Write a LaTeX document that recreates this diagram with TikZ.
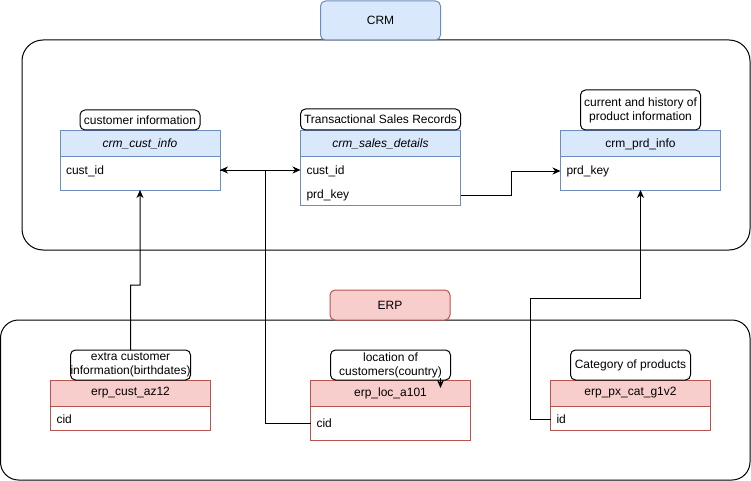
\documentclass[tikz,border=0pt]{standalone}
\usepackage{fontspec}
\setmainfont{Liberation Sans}
\usetikzlibrary{arrows.meta,calc}
\definecolor{blueS}{HTML}{6C8EBF}
\definecolor{blueF}{HTML}{DAE8FC}
\definecolor{redS}{HTML}{B85450}
\definecolor{redF}{HTML}{F8CECC}
\begin{document}
\begin{tikzpicture}[x=1pt,y=-1pt,font=\fontsize{12}{14}\selectfont,line width=1pt,
  every node/.style={inner sep=0pt,outer sep=0pt},
  container/.style={draw=black,rounded corners=21pt,anchor=north west},
  grplabel/.style={rounded corners=5pt,anchor=north west,minimum width=120pt},
  bluelabel/.style={grplabel,draw=blueS,fill=blueF},
  redlabel/.style={grplabel,draw=redS,fill=redF},
  caption/.style={draw=black,fill=white,rounded corners=5pt,anchor=north west,align=center},
  bhead/.style={draw=blueS,fill=blueF,anchor=north west,minimum width=160pt,minimum height=26pt},
  bbody/.style={draw=blueS,fill=white,anchor=north west,minimum width=160pt},
  rhead/.style={draw=redS,fill=redF,anchor=north west,minimum width=160pt,minimum height=26pt},
  rbody/.style={draw=redS,fill=white,anchor=north west,minimum width=160pt},
  rowtxt/.style={anchor=west},
  arr/.style={draw=black,line width=1pt,-{Stealth[length=8pt,width=7pt,inset=2.5pt]}},
  link/.style={draw=black,line width=1pt}]
\useasboundingbox (0,0) rectangle (751,481);

% containers
\node[container,minimum width=728pt,minimum height=210pt] (crm) at (22,40) {};
\node[container,rounded corners=18pt,minimum width=749.5pt,minimum height=160pt] (erp) at (0.5,320) {};
\node[bluelabel,minimum height=39pt] (crmlbl) at (320.5,1) {CRM};
\node[redlabel,minimum height=30pt] (erplbl) at (330,290) {ERP};

% CRM tables
\node[bhead] (custH) at (60,131) {\itshape crm\_cust\_info};
\node[bbody,minimum height=33pt] (custB) at (60,157) {};
\node[rowtxt] (custR) at (66,171) {cust\_id};
\node[caption,minimum width=120pt,minimum height=20pt] (custCap) at (80,110) {customer information};

\node[bhead] (salesH) at (300.5,131) {\itshape crm\_sales\_details};
\node[bbody,minimum height=48pt] (salesB) at (300.5,157) {};
\node[rowtxt] (salesR1) at (306.5,171) {cust\_id};
\node[rowtxt] (salesR2) at (306.5,195) {prd\_key};
\node[caption,minimum width=160pt,minimum height=21pt] (salesCap) at (300.5,109) {Transactional Sales Records};

\node[bhead] (prdH) at (560.5,131) {crm\_prd\_info};
\node[bbody,minimum height=33pt] (prdB) at (560.5,157) {};
\node[rowtxt] (prdR) at (566.5,171) {prd\_key};
\node[caption,minimum width=120pt,minimum height=40pt] (prdCap) at (580.5,90) {current and history of\\product information};

% ERP tables
\node[rhead] (azH) at (50.5,380) {erp\_cust\_az12};
\node[rbody,minimum height=24pt] (azB) at (50.5,406) {};
\node[rowtxt] (azR) at (56.5,419) {cid};

\node[rhead] (locH) at (310.5,380) {erp\_loc\_a101};
\node[rbody,minimum height=34pt] (locB) at (310.5,406) {};
\node[rowtxt] (locR) at (316.5,423) {cid};

\node[rhead] (pxH) at (550.5,380) {erp\_px\_cat\_g1v2};
\node[rbody,minimum height=24pt] (pxB) at (550.5,406) {};
\node[rowtxt] (pxR) at (556.5,419) {id};
\node[caption,minimum width=120pt,minimum height=30pt] (pxCap) at (570.5,350) {Category of products};

% connectors
\coordinate (j1) at (130.5,285);
\coordinate (j2) at (265,170);
\coordinate (j4) at (530,298);
\draw[arr] (custB.east |- j2) -- (salesB.west |- j2);
\draw[arr] (locB.west |- locR) -| (j2) -- (custB.east |- j2);
\draw[arr] (salesB.east |- salesR2) -- ++(51,0) |- (prdB.west |- prdR);
\draw[arr] (pxB.west |- pxR) -| (j4) -| (prdB.south);

% captions drawn over the link ends
\node[caption,minimum width=120pt,minimum height=30pt] (azCap) at (70.5,350) {extra customer\\information(birthdates)};
\node[caption,minimum width=120pt,minimum height=30pt] (locCap) at (330.5,350) {location of\\customers(country)};
\draw[arr] (azCap.north) -- (j1) -| (custB.south);
\coordinate (s1) at (440.5,378);
\coordinate (s2) at (440.5,388);
\draw[arr] (s1) -- (s2);
\end{tikzpicture}
\end{document}
